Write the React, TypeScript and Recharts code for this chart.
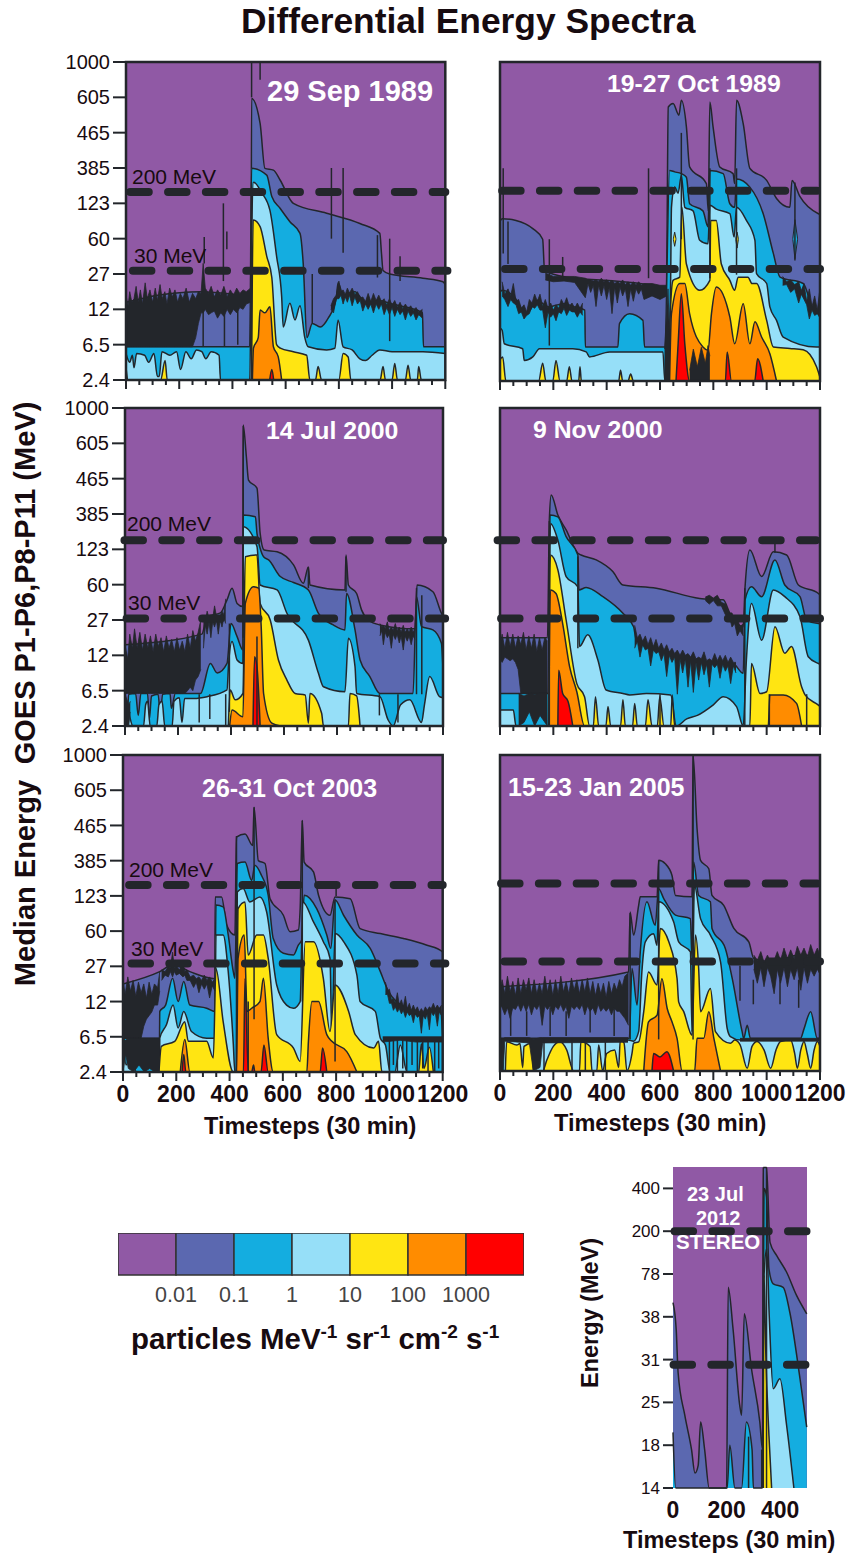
import React from "react";
import { Area, AreaChart, Bar, BarChart, ReferenceArea, ReferenceLine, XAxis, YAxis } from "recharts";

// colours of the flux bins, lowest flux first
const binColors = ["#9059A5", "#5B68B0", "#14ADE0", "#96DFF8", "#FFE512", "#FF8C00", "#FF0000"];
const dark = "#23262B";
const ink = "#170B10";
const fontFamily = "'Liberation Sans', Arial, sans-serif";

const goesLabels = ["2.4", "6.5", "12", "27", "60", "123", "385", "465", "605", "1000"];
const stereoLabels = ["14", "18", "25", "31", "38", "78", "200", "400"];
const fluxLabels = ["0.01", "0.1", "1", "10", "100", "1000"];
const goesTimeTicks = [0, 50, 100, 150, 200, 250, 300, 350, 400, 450, 500, 550, 600, 650, 700, 750, 800, 850, 900, 950, 1000, 1050, 1100, 1150, 1200];
const stereoTimeTicks = [0, 200, 400];

// contour heights as [timestep, energy rung], rung 0 is the lowest energy tick

// 29 Sep 1989
const sep89_001 = [[0, 2.2], [120, 2.4], [280, 2.5], [470, 2.4], [472, 7.97], [504, 7.26], [522, 5.99], [554, 5.94], [579, 5.66], [629, 5], [754, 4.72], [879, 4.43], [954, 4.15], [960, 3.6], [966, 3.1], [991, 3], [1116, 2.88], [1191, 2.78], [1200, 2.7]];
const sep89_01 = [[0, 0.94], [465, 0.94], [472, 5.99], [529, 5.8], [548, 5.19], [579, 4.86], [616, 4.48], [654, 4.15], [666, 3.3], [680, 1.2], [700, 1.6], [730, 1.5], [760, 1.75], [790, 2.3], [797, 2.75], [816, 2.4], [860, 2.5], [900, 2.2], [950, 2.25], [1000, 2.15], [1060, 2.05], [1114, 1.9], [1118, 0.94], [1200, 0.94]];
const sep89_1 = [[0, 0.75], [14, 0.5], [24, 0.7], [30, 0.35], [40, 0.75], [70, 0.7], [85, 0.5], [105, 0.75], [118, 0.1], [125, 0.1], [135, 0.8], [165, 0.7], [190, 0.8], [205, 0.3], [225, 0.8], [245, 0.6], [265, 0.85], [285, 0.8], [300, 0.6], [320, 0.8], [350, 0.7], [355, 0], [465, 0], [472, 4], [479, 5.6], [510, 5.3], [541, 4.8], [566, 3.5], [585, 2.36], [591, 1.5], [616, 2.17], [635, 1.7], [654, 2.1], [672, 1.2], [685, 0.94], [754, 0.85], [785, 0.9], [797, 1.7], [816, 0.94], [850, 0.85], [879, 0.6], [900, 0.55], [925, 0.7], [954, 0.85], [1000, 0.8], [1116, 0.8], [1200, 0.75]];
const sep89_10 = [[0, 0.35], [8, 0], [130, 0], [147, 0.55], [155, 0], [470, 0], [478, 4.53], [504, 4.34], [529, 3.5], [548, 2.9], [566, 1], [580, 0.9], [629, 0.8], [679, 0.7], [691, 0], [712, 0], [722, 0.38], [735, 0], [800, 0], [816, 0.75], [835, 0.65], [845, 0], [955, 0], [966, 0.38], [975, 0], [1000, 0], [1010, 0.47], [1020, 0], [1050, 0], [1060, 0.42], [1070, 0], [1095, 0], [1100, 0.38], [1110, 0], [1200, 0]];
const sep89_100 = [[475, 0], [479, 0.9], [497, 1.2], [504, 1.98], [522, 1.9], [541, 2.07], [554, 0.94], [572, 0.66], [585, 0]];
const sep89_1000 = [[540, 0], [548, 0.3], [555, 0]];
const sep89_noise = [
  [[0, 0.94, 2.4], [8, 0.94, 2.1], [14, 0.94, 2.5], [22, 0.94, 2.2], [30, 0.94, 2.3], [38, 0.94, 2.65], [46, 0.94, 2.2], [54, 0.94, 2.55], [62, 0.94, 2.15], [72, 0.94, 2.75], [80, 0.94, 2.3], [90, 0.94, 2.55], [100, 0.94, 2.2], [110, 0.94, 2.6], [118, 0.94, 2.25], [128, 0.94, 2.7], [136, 0.94, 2.3], [146, 0.94, 2.5], [154, 0.94, 2.15], [164, 0.94, 2.6], [174, 0.94, 2.35], [184, 0.94, 2.55], [194, 0.94, 2.2], [204, 0.94, 2.45], [214, 0.94, 2.3], [226, 0.94, 2.6], [238, 0.94, 2.2], [250, 0.94, 2.45], [262, 1.2, 2.3], [272, 1.6, 2.5], [282, 1.9, 2.45], [290, 1.9, 3.3], [298, 2, 2.6], [310, 1.85, 2.45], [320, 1.9, 2.65], [332, 1.95, 2.35], [344, 1.75, 2.55], [356, 1.9, 2.4], [368, 1.8, 2.65], [380, 2, 2.35], [392, 1.85, 2.55], [404, 2, 2.4], [416, 1.9, 2.6], [428, 2.05, 2.45], [440, 2, 2.55], [452, 2.15, 2.5], [468, 2.2, 2.6]],
  [[770, 2, 2.1], [780, 1.9, 2.3], [790, 2.3, 2.4], [800, 2.3, 2.8], [808, 2.4, 2.5], [816, 2.15, 2.55], [824, 2.35, 2.42], [832, 2.2, 2.6], [840, 2.4, 2.46], [850, 2.1, 2.6], [860, 2.35, 2.42], [870, 2.15, 2.5], [880, 2.25, 2.32], [890, 1.95, 2.35], [900, 2.15, 2.22], [910, 2, 2.45], [920, 2.15, 2.22], [930, 1.9, 2.45], [940, 2.15, 2.25], [950, 2, 2.4], [960, 2.15, 2.22], [970, 1.85, 2.3], [980, 2.05, 2.12], [990, 1.85, 2.3], [1000, 2.05, 2.12], [1010, 1.8, 2.25], [1020, 2, 2.06], [1030, 1.85, 2.2], [1040, 1.95, 2.02], [1050, 1.7, 2.15], [1060, 1.95, 2.02], [1070, 1.8, 2.1], [1080, 1.9, 1.97], [1090, 1.7, 2.05], [1100, 1.85, 1.92], [1114, 1.75, 2]],
];
const sep89_spikes = [[472, 8, 9], [504, 8.5, 9], [472, 0, 5.6], [772, 4, 6], [816, 3.6, 6], [366, 2.8, 5], [379, 3.7, 4.2], [294, 3.3, 4.05], [991, 1.1, 4], [1030, 2.8, 3.5], [945, 2.9, 4.1], [290, 0.95, 2], [370, 0.95, 2], [420, 1, 2], [700, 1.6, 3]];

// 19-27 Oct 1989
const oct89_001 = [[0, 4.5], [8, 4.58], [60, 4.53], [123, 4.3], [160, 4], [167, 3.12], [248, 2.93], [398, 2.84], [524, 2.75], [624, 2.65], [631, 7.73], [649, 7.83], [671, 7.5], [680, 7.92], [699, 7.17], [711, 6.04], [774, 5.57], [781, 4.8], [787, 7.87], [799, 7.17], [824, 6.04], [874, 5.85], [880, 5.57], [887, 7.92], [912, 7.26], [937, 6], [1000, 5.66], [1037, 5.15], [1087, 4.9], [1095, 5.66], [1125, 5.2], [1194, 4.72], [1200, 4.7]];
const oct89_01 = [[0, 2.5], [8, 2.56], [50, 2.4], [100, 1.9], [140, 2.28], [180, 2.09], [240, 2.18], [280, 2.09], [318, 2], [320, 0.96], [442, 0.96], [448, 1.62], [486, 1.9], [536, 1.71], [542, 0.96], [618, 0.96], [636, 5.94], [655, 5.9], [680, 5.85], [699, 5.75], [711, 5], [761, 4.8], [780, 4.35], [787, 5.94], [837, 5.85], [862, 5], [880, 4.9], [887, 5.7], [937, 5.47], [987, 4.72], [1025, 3.6], [1050, 2.93], [1137, 2.75], [1175, 2], [1194, 1.9], [1200, 1.9]];
const oct89_1 = [[0, 1.5], [8, 1.43], [16, 1.05], [85, 0.91], [91, 0.58], [123, 0.68], [148, 0.91], [273, 0.91], [323, 0.82], [336, 0.68], [411, 0.82], [611, 0.82], [618, 0], [630, 0], [640, 2.9], [643, 4.9], [655, 5.47], [668, 5.3], [680, 5.8], [693, 4.9], [724, 4.8], [749, 3.97], [780, 3.87], [787, 4.96], [811, 4.85], [862, 4.72], [878, 4.06], [887, 4.9], [924, 4.53], [956, 3.97], [962, 3.03], [1000, 2.75], [1012, 2.09], [1037, 1.71], [1062, 1.24], [1187, 0.96], [1200, 0.96]];
const oct89_10 = [[0, 0.6], [10, 0.68], [22, 0], [145, 0], [160, 0.5], [172, 0], [198, 0], [210, 0.58], [225, 0], [250, 0], [260, 0.4], [270, 0], [295, 0], [300, 0.4], [305, 0], [445, 0], [452, 0.3], [460, 0], [480, 0], [490, 0.2], [500, 0], [632, 0], [639, 2], [649, 2.84], [674, 2.93], [682, 4.9], [699, 3.3], [749, 2.56], [787, 2.84], [790, 4.53], [811, 4.53], [830, 3.3], [862, 2.84], [880, 2.56], [893, 2.93], [930, 2.93], [945, 2.75], [962, 2.75], [1000, 1.71], [1025, 0.96], [1087, 0.92], [1137, 0.88], [1187, 0.4], [1200, 0.1]];
const oct89_100 = [[636, 0], [643, 1.9], [674, 2.75], [693, 2.75], [711, 1.9], [761, 0.96], [780, 0.87], [793, 1.9], [811, 2.65], [862, 1.8], [880, 1.05], [912, 2.18], [937, 1.05], [956, 1.67], [981, 1.24], [1012, 0.77], [1037, 0]];
const oct89_1000 = [[660, 0], [668, 1.05], [680, 2.46], [693, 1.05], [711, 0], [845, 0], [852, 0.82], [868, 0], [955, 0], [966, 0.63], [987, 0]];
const oct89_noise = [
  [[8, 2.4, 2.8], [18, 2.3, 2.45], [30, 2.1, 2.6], [40, 2.3, 2.4], [50, 2.2, 2.75], [60, 2.15, 2.25], [70, 1.9, 2.3], [80, 1.95, 2.05], [90, 1.75, 2.15], [100, 1.85, 1.95], [110, 1.9, 2.3], [120, 2.1, 2.2], [130, 2.05, 2.45], [140, 2.15, 2.25], [150, 2, 2.45], [160, 2, 2.1], [170, 1.5, 2.3], [180, 1.95, 2.05], [190, 1.8, 2.2], [200, 1.9, 2], [210, 1.7, 2.15], [220, 1.95, 2.05], [230, 1.9, 2.3], [240, 2.05, 2.15], [250, 1.85, 2.35], [260, 2, 2.1], [270, 1.95, 2.2], [280, 1.95, 2.05], [290, 1.8, 2.2], [300, 1.95, 2.05], [310, 1.85, 2.2]],
  [[170, 2.85, 3.05], [200, 2.8, 2.95], [240, 2.82, 2.95], [280, 2.78, 2.95], [320, 2.35, 2.9], [330, 2.75, 2.85], [340, 2.5, 2.85], [350, 2.7, 2.82], [360, 2.1, 2.85], [370, 2.7, 2.8], [380, 2.4, 2.9], [390, 2.7, 2.8], [400, 2.3, 2.85], [410, 2.65, 2.78], [420, 1.9, 2.85], [430, 2.65, 2.75], [440, 2.2, 2.8], [450, 2.65, 2.75], [460, 2.4, 2.85], [470, 2.6, 2.72], [480, 2.1, 2.8], [490, 2.6, 2.7], [500, 2.25, 2.8], [510, 2.6, 2.7], [520, 2.45, 2.8], [530, 2.6, 2.7], [540, 2.3, 2.75], [570, 2.4, 2.75], [600, 2.3, 2.7], [625, 2.4, 2.7]],
  [[617, 0, 0.9], [630, 0, 2.6], [637, 0, 0.9]],
  [[711, 0, 0.3], [725, 0, 0.9], [740, 0, 0.4], [755, 0, 0.95], [770, 0, 0.5], [780, 0, 1], [787, 0, 0.7]],
  [[1060, 2.7, 2.95], [1075, 2.72, 2.8], [1090, 2.5, 2.85], [1105, 2.6, 2.72], [1120, 2.2, 2.8], [1130, 2.45, 2.55], [1140, 2.3, 2.75], [1150, 2.15, 2.25], [1160, 1.75, 2.6], [1170, 2, 2.1], [1180, 1.85, 2.4], [1190, 1.9, 2], [1198, 1.8, 2.5]],
];
const oct89_patches = [
  { bin: 2, pts: [[1098, 4, 4.01], [1106, 3.45, 4.55], [1116, 4, 4.01]] },
  { bin: 4, pts: [[650, 4, 4.01], [655, 3.8, 4.2], [660, 4, 4.01]] },
  { bin: 4, pts: [[884, 4, 4.01], [889, 3.75, 4.2], [894, 4, 4.01]] },
];
const oct89_spikes = [[12, 3.6, 6], [557, 2.9, 6], [680, 4, 7], [787, 2.9, 6], [887, 3, 6], [185, 1, 4], [235, 2.9, 3.5], [30, 3.3, 4.5], [1106, 3.4, 5.6]];

// 14 Jul 2000
const jul00_001 = [[0, 2.3], [290, 2.6], [310, 3.1], [360, 3.2], [385, 3.57], [404, 3.9], [423, 3.47], [445, 3.38], [446, 8.52], [458, 7.62], [466, 6.96], [498, 6.73], [510, 5.45], [525, 4.98], [574, 4.93], [636, 4.56], [673, 4.04], [692, 4.5], [698, 3.99], [830, 3.85], [834, 4.84], [843, 3.99], [874, 3.75], [893, 3.28], [918, 3], [962, 2.86], [1094, 2.75], [1102, 3.99], [1162, 3.8], [1194, 3.19], [1200, 3.1]];
const jul00_01 = [[0, 0.6], [8, 0.2], [14, 0.9], [40, 0.92], [50, 0.3], [60, 0.92], [85, 0.92], [92, 0.2], [100, 0.85], [125, 0.9], [133, 0.3], [142, 0.9], [170, 0.92], [175, 0.5], [190, 0.92], [285, 0.92], [322, 1.77], [348, 1.5], [385, 1.77], [400, 2.9], [423, 2.53], [445, 2.15], [446, 5.97], [492, 5.92], [498, 5.45], [510, 5.03], [523, 4.79], [542, 4.7], [586, 4.23], [636, 4.06], [692, 3.85], [730, 3.19], [786, 2.86], [830, 2.72], [836, 3.75], [868, 2.72], [887, 1.87], [924, 1.4], [962, 0.92], [1087, 0.92], [1100, 3.66], [1119, 2.81], [1162, 2.72], [1194, 2.34], [1200, 1.6]];
const jul00_1 = [[12, 0.55], [20, 0.2], [30, 0], [70, 0], [78, 0.6], [85, 0.7], [95, 0], [120, 0], [128, 0.6], [140, 0.7], [150, 0], [178, 0], [185, 0.7], [205, 0.8], [215, 0.1], [225, 0.78], [260, 0.78], [310, 0.83], [385, 1.02], [391, 1.77], [404, 2.39], [423, 1.87], [445, 1.77], [446, 5.64], [498, 5.08], [510, 3.99], [574, 3.85], [611, 3.19], [692, 2.43], [730, 1.49], [749, 1.11], [830, 0.97], [843, 2.48], [868, 1.68], [874, 0.92], [962, 0.83], [993, 0.17], [1012, 0], [1040, 0.6], [1075, 0.74], [1119, 0.1], [1130, 0.6], [1150, 1.4], [1187, 0.83], [1200, 0.8]];
const jul00_10 = [[390, 0], [397, 1.02], [416, 0.74], [445, 0.92], [454, 4.79], [498, 4.84], [510, 3.47], [548, 3], [579, 1.87], [611, 1.3], [642, 0.92], [680, 0.88], [692, 0.08], [698, 0.92], [742, 0.36], [749, 0], [843, 0], [849, 0.92], [874, 0.85], [887, 0]];
const jul00_100 = [[395, 0], [404, 0.45], [445, 0.26], [454, 3.47], [485, 3.94], [504, 3.9], [514, 2.81], [523, 0.92], [554, 0.08], [586, 0]];
const jul00_1000 = [[483, 0], [489, 1.96], [498, 1.68], [510, 0]];
const jul00_noise = [
  [[0, 0.92, 2.3], [10, 0.92, 1.9], [18, 0.92, 2.6], [28, 0.92, 2.2], [36, 0.92, 2.75], [46, 0.92, 2.2], [56, 0.92, 2.65], [66, 0.92, 2.15], [76, 0.92, 2.6], [86, 0.92, 2.2], [96, 0.92, 2.55], [106, 0.92, 2.1], [116, 0.92, 2.6], [126, 0.92, 2.25], [136, 0.92, 2.5], [146, 0.92, 2.1], [156, 0.92, 2.55], [166, 0.92, 2.2], [176, 0.92, 2.45], [186, 0.92, 2.1], [196, 0.92, 2.5], [206, 0.92, 2.15], [216, 0.92, 2.4], [226, 0.92, 2.1], [236, 1, 2.6], [246, 1.1, 2.2], [256, 1, 2.7], [266, 1.3, 2.4], [276, 1.4, 2.65], [286, 1.6, 3]],
  [[296, 2.2, 3.1], [303, 2.85, 2.95], [310, 2.6, 3.25], [317, 2.95, 3.05], [324, 2.5, 3.05], [331, 2.95, 3.05], [338, 2.8, 3.4], [345, 3, 3.1], [352, 2.6, 3.1], [359, 3, 3.1], [366, 2.8, 3.25], [373, 3.05, 3.15], [380, 2.9, 3.6]],
  [[962, 2.55, 2.9], [969, 2.7, 2.8], [975, 2.3, 2.85], [982, 2.65, 2.75], [990, 2.5, 2.95], [997, 2.6, 2.7], [1005, 2.2, 2.8], [1012, 2.6, 2.7], [1020, 2.45, 2.9], [1027, 2.6, 2.7], [1035, 2.35, 2.8], [1042, 2.55, 2.65], [1050, 2.15, 2.85], [1057, 2.55, 2.65], [1065, 2.4, 2.75], [1072, 2.55, 2.65], [1080, 2.3, 2.8], [1087, 2.55, 2.65], [1094, 2.45, 2.75]],
  [[0, 0, 0.9], [14, 0, 0.6], [20, 0.4, 0.7]],
];
const jul00_spikes = [[446, 2.5, 8.5], [498, 0, 2.53], [692, 3.9, 4.5], [834, 3.8, 4.8], [1100, 0.9, 3.9], [1120, 0.9, 3.7], [394, 0.4, 2.9], [280, 0.1, 0.9], [320, 0.2, 0.9], [380, 0, 0.9], [960, 0.3, 0.9], [1030, 0.1, 0.9]];

// 9 Nov 2000
const nov00_001 = [[0, 2.5], [178, 2.5], [185, 5.83], [192, 6.54], [217, 5.97], [248, 5.55], [292, 4.89], [304, 4.84], [361, 4.7], [423, 4.37], [461, 3.99], [586, 3.9], [749, 3.61], [837, 3.57], [862, 3.19], [912, 2.81], [919, 3.94], [937, 4.98], [981, 4.23], [1025, 4.93], [1075, 4.84], [1119, 3.99], [1194, 3.75], [1200, 3.7]];
const nov00_01 = [[0, 0.92], [180, 0.92], [188, 5.97], [217, 5.92], [248, 5.36], [292, 4.84], [296, 3.85], [323, 3.92], [386, 3.66], [461, 3.19], [501, 2.81], [511, 2.43], [624, 2.06], [711, 1.87], [874, 1.77], [912, 1.49], [919, 3.57], [943, 3.94], [981, 3.66], [1031, 4.7], [1068, 3.99], [1125, 3.66], [1150, 3], [1194, 2.9], [1200, 2.9]];
const nov00_1 = [[0, 0.45], [50, 0.45], [60, 0], [182, 0], [189, 5.73], [217, 5.26], [248, 4.23], [292, 3.94], [298, 2.25], [329, 2.58], [367, 1.87], [398, 1.02], [461, 0.92], [486, 0.88], [549, 0.92], [640, 0.88], [661, 0], [700, 0.2], [740, 0.3], [800, 0.6], [837, 0.83], [887, 0.55], [912, 0], [924, 1.87], [943, 3.47], [981, 2.43], [1025, 3.85], [1068, 3.66], [1125, 3.09], [1156, 1.96], [1194, 1.77], [1200, 1.75]];
const nov00_10 = [[182, 0], [189, 4.84], [217, 4.42], [248, 3], [288, 1.2], [317, 0.83], [336, 0], [350, 0], [358, 0.83], [370, 0], [397, 0], [405, 0.55], [415, 0], [452, 0], [461, 0.74], [470, 0], [497, 0], [505, 0.64], [515, 0], [545, 0], [555, 0.74], [570, 0], [590, 0], [599, 0.83], [615, 0], [640, 0], [646, 0.88], [655, 0], [937, 0], [943, 1.77], [975, 0.92], [1000, 0.97], [1031, 2.81], [1068, 2.06], [1093, 2.25], [1131, 1.11], [1144, 0.88], [1194, 0.59], [1200, 0.55]];
const nov00_100 = [[183, 0], [189, 3.85], [210, 3.75], [235, 2.9], [261, 1.68], [288, 0.97], [317, 0], [1006, 0], [1012, 0.88], [1062, 0.88], [1112, 0.64], [1131, 0]];
const nov00_1000 = [[217, 0], [220, 1.58], [235, 0.92], [255, 0.7], [273, 0]];
const nov00_noise = [
  [[0, 1.9, 2.3], [8, 1.8, 2.6], [18, 1.95, 2.2], [28, 1.9, 2.65], [38, 1.85, 2.25], [48, 1.9, 2.6], [58, 1.8, 2.2], [68, 1.6, 2.55], [78, 0.92, 2.3], [88, 0.92, 2.65], [98, 0.92, 2.15], [108, 0.92, 2.55], [118, 0.92, 2.2], [128, 0.92, 2.6], [138, 0.92, 2.1], [148, 0.92, 2.5], [158, 0.92, 2.15], [168, 0.92, 2.5], [178, 0.92, 2.4]],
  [[70, 0, 0.92], [90, 0.1, 0.85], [110, 0.4, 0.92], [130, 0, 0.9], [150, 0.3, 0.92], [178, 0, 0.92]],
  [[505, 2.2, 2.85], [515, 2.4, 2.5], [525, 1.95, 2.6], [535, 2.3, 2.4], [545, 2.15, 2.55], [555, 2.2, 2.3], [565, 1.7, 2.5], [575, 2.15, 2.25], [585, 2.05, 2.45], [595, 2.1, 2.2], [605, 1.85, 2.35], [615, 2.05, 2.15], [625, 1.4, 2.3], [635, 2, 2.1], [645, 1.8, 2.2], [655, 1.95, 2.05], [665, 0.9, 2.15], [675, 1.9, 2], [685, 1.5, 2.15], [695, 1.9, 2], [705, 1.1, 2.05], [715, 1.85, 1.95], [725, 0.95, 2.1], [735, 1.8, 1.9], [745, 1.3, 1.95], [755, 1.8, 1.9], [765, 1.45, 2.1], [775, 1.75, 1.85], [785, 1.1, 1.9], [795, 1.75, 1.85], [805, 1.65, 2.05], [815, 1.75, 1.85], [825, 1.35, 2], [835, 1.75, 1.85], [845, 1.55, 2], [855, 1.7, 1.8], [865, 1.2, 1.95], [875, 1.7, 1.8], [885, 1.5, 1.8]],
  [[770, 3.55, 3.65], [785, 3.45, 3.7], [800, 3.55, 3.62], [815, 3.4, 3.7], [830, 3.4, 3.5], [845, 3.15, 3.45], [860, 3.1, 3.2], [870, 2.8, 3.2], [880, 2.9, 3], [890, 2.55, 3.05], [900, 2.7, 2.8], [912, 2.55, 2.9]],
];
const nov00_spikes = [[185, 0, 5.8], [292, 2.2, 4.8], [1031, 4.9, 5.3], [918, 0, 3.9], [1010, 0, 0.9], [1150, 0, 0.9], [600, 0, 0.9]];

// 26-31 Oct 2003
const oct03_001 = [[0, 2.5], [138, 2.85], [188, 3.05], [251, 2.85], [345, 2.65], [346, 4.97], [370, 4.97], [389, 4.17], [420, 3.89], [426, 6.67], [458, 6.76], [487, 6.43], [492, 7.52], [508, 6], [533, 5.92], [552, 4.92], [602, 4.45], [627, 3.98], [658, 4.03], [665, 4.64], [673, 7.14], [680, 5.96], [715, 5.68], [734, 5.02], [777, 4.45], [796, 4.97], [853, 4.92], [890, 4.07], [966, 3.93], [1053, 3.79], [1141, 3.6], [1198, 3.42], [1200, 3.4]];
const oct03_01 = [[0, 0.96], [137, 0.96], [138, 1.72], [160, 1.9], [186, 2.66], [207, 2], [228, 2.57], [251, 1.9], [314, 1.81], [345, 1.72], [349, 4.74], [376, 4.69], [395, 3.89], [414, 2.85], [420, 2.66], [429, 5.92], [458, 5.96], [483, 5.44], [495, 5.87], [520, 5.58], [545, 5.02], [564, 3.79], [602, 3.37], [640, 3.32], [658, 3.6], [671, 3.75], [680, 5.02], [727, 4.64], [765, 3.89], [780, 3.51], [796, 4.88], [828, 4.45], [878, 3.89], [928, 3.51], [966, 2.85], [997, 2.28], [1066, 1.81], [1116, 1.62], [1191, 1.81], [1200, 1]];
const oct03_1 = [[0, 0.9], [12, 0.2], [30, 0.7], [50, 0], [137, 0], [138, 0.96], [163, 1.34], [188, 1.9], [207, 1.25], [228, 1.72], [257, 1.15], [314, 0.96], [345, 0.96], [349, 3.89], [376, 3.89], [395, 2.85], [414, 0.8], [420, 0], [426, 0], [429, 5.11], [451, 5.21], [476, 4.83], [514, 4.97], [539, 4.55], [577, 2.47], [614, 1.9], [640, 1.81], [665, 2], [675, 4.83], [715, 4.26], [752, 3.7], [777, 3.23], [784, 0.96], [796, 3.93], [828, 3.7], [878, 2.75], [890, 2], [947, 1.72], [966, 0.96], [985, 0.77], [1003, 0], [1020, 0], [1041, 0.77], [1066, 0], [1200, 0]];
const oct03_10 = [[135, 0], [144, 0.73], [194, 0.87], [232, 1.43], [245, 0.87], [314, 0.87], [339, 0.4], [349, 2.94], [376, 1.43], [414, 0], [426, 0], [432, 4.64], [458, 4.83], [470, 3.32], [502, 3.89], [527, 3.89], [545, 3.23], [577, 1.06], [640, 0.68], [665, 0.3], [684, 3.7], [715, 3.7], [752, 2.66], [777, 1.15], [796, 2.47], [847, 1.72], [872, 1.06], [941, 0.68], [959, 0.87], [972, 0], [1110, 0], [1120, 0.8], [1130, 0.1], [1150, 0.7], [1165, 0]];
const oct03_100 = [[215, 0], [232, 0.92], [251, 0], [426, 0], [432, 3.23], [455, 3.89], [466, 1.72], [483, 1.81], [514, 2], [527, 2.66], [545, 0.96], [564, 0], [690, 0], [696, 0.87], [709, 2], [734, 2], [765, 1.06], [784, 0.87], [840, 0.58], [878, 0]];
const oct03_1000 = [[222, 0], [228, 0.5], [236, 0], [452, 0], [458, 2.66], [470, 0], [483, 0], [490, 0.2], [495, 0], [518, 0], [529, 0.77], [545, 0], [740, 0], [749, 0.68], [765, 0]];
const oct03_noise = [
  [[0, 0.96, 2.6], [8, 0.96, 2.2], [18, 0.96, 2.7], [28, 0.96, 2.3], [38, 0.96, 2.6], [48, 0.96, 2.15], [58, 0.96, 2.55], [68, 0.96, 2.25], [78, 1.3, 2.5], [88, 1.5, 2.1], [98, 1.6, 2.55], [108, 1.7, 2.2], [118, 1.9, 2.5], [130, 1.9, 2.4], [138, 2.3, 2.85]],
  [[0, 0, 0.96], [10, 0.5, 0.9], [20, 0.1, 0.96], [40, 0, 0.96], [60, 0.2, 0.96], [80, 0, 0.96], [100, 0.1, 0.96], [120, 0, 0.96], [137, 0, 0.96]],
  [[145, 2.6, 2.9], [158, 2.75, 2.85], [170, 2.7, 3], [178, 2.85, 2.95], [186, 2.7, 3.4], [193, 2.85, 2.95], [200, 2.75, 3], [212, 2.8, 2.9], [225, 2.7, 3.1], [232, 2.75, 2.85], [240, 2.6, 2.9], [252, 2.6, 2.7], [265, 2.4, 2.75], [275, 2.55, 2.65], [285, 2.25, 2.7], [295, 2.5, 2.6], [305, 2.35, 2.75], [315, 2.5, 2.6], [325, 2.1, 2.7], [335, 2.45, 2.55], [345, 2.3, 2.65]],
  [[985, 2.2, 2.55], [993, 2.2, 2.3], [1000, 1.95, 2.35], [1008, 1.95, 2.05], [1015, 1.75, 2.1], [1022, 1.85, 1.95], [1030, 1.7, 2.25], [1037, 1.8, 1.9], [1045, 1.65, 2.05], [1052, 1.75, 1.85], [1060, 1.55, 2.15], [1067, 1.7, 1.8], [1075, 1.6, 1.95], [1082, 1.65, 1.75], [1090, 1.4, 1.9], [1097, 1.65, 1.75], [1105, 1.55, 1.85], [1112, 1.6, 1.7], [1120, 1.1, 1.8], [1127, 1.6, 1.7], [1135, 1.5, 1.85], [1142, 1.65, 1.75], [1150, 1.2, 1.85], [1157, 1.7, 1.8], [1165, 1.6, 1.95], [1172, 1.7, 1.8], [1180, 1.3, 1.9], [1187, 1.7, 1.8], [1196, 1.6, 1.9]],
  [[975, 0.85, 1], [1040, 0.9, 1], [1100, 0.85, 1], [1200, 0.85, 1]],
];
const oct03_spikes = [[426, 0, 6.7], [673, 2, 7.14], [492, 1.5, 7.52], [796, 0.3, 4.9], [470, 0, 2], [1000, 0, 0.9], [1015, 0.2, 0.9], [1030, 0, 0.9], [1050, 0.1, 0.9], [1065, 0, 0.9], [1085, 0.2, 0.9], [1105, 0, 0.9], [1125, 0.1, 0.9], [1145, 0, 0.9], [1170, 0, 0.9], [1185, 0.1, 0.9], [800, 5, 5.3]];

// 15-23 Jan 2005
const jan05_001 = [[0, 2.4], [482, 2.82], [488, 4.53], [501, 3.87], [520, 4.72], [526, 4.96], [589, 4.96], [595, 6], [620, 5.9], [645, 5.57], [658, 5], [720, 4.96], [724, 8.99], [739, 6.9], [752, 6], [783, 5.76], [795, 5], [839, 4.72], [877, 4.06], [933, 3.68], [952, 3.2], [1027, 3.11], [1115, 3.3], [1190, 3.3], [1200, 3.2]];
const jan05_01 = [[0, 0.93], [485, 0.93], [495, 2.92], [514, 1.88], [526, 3.39], [551, 4.82], [582, 4.15], [595, 5.19], [614, 4.91], [658, 4.44], [714, 4.34], [720, 3.2], [726, 5.95], [745, 5], [789, 4.82], [795, 4.06], [845, 3.49], [871, 2.63], [908, 1.12], [914, 0.93], [927, 1.3], [939, 0.93], [1127, 0.93], [1140, 1.2], [1165, 1.69], [1190, 0.93], [1200, 0.93]];
const jan05_1 = [[15, 0.88], [480, 0.88], [501, 0.85], [520, 1.12], [532, 2.82], [545, 3.68], [576, 3.91], [589, 3.58], [595, 4.82], [651, 4.25], [670, 3.68], [714, 3.39], [720, 1.12], [729, 5.29], [752, 4.34], [789, 3.87], [827, 3.11], [852, 1.21], [864, 0.98], [902, 0.88], [1200, 0.88]];
const jan05_10 = [[20, 0], [25, 0.83], [63, 0.74], [75, 0.78], [85, 0.1], [90, 0.7], [120, 0.79], [125, 0], [160, 0], [175, 0.3], [200, 0.7], [225, 0.83], [250, 0.6], [276, 0], [298, 0], [303, 0.83], [338, 0.7], [345, 0], [363, 0], [370, 0.74], [385, 0], [400, 0.5], [430, 0.6], [445, 0.1], [451, 0.88], [465, 0.8], [476, 0], [495, 0.5], [501, 0.79], [520, 0.83], [539, 1.69], [557, 2.82], [589, 2.45], [601, 4.06], [633, 3.68], [664, 2.63], [670, 1.97], [689, 1.69], [720, 1.02], [733, 3.87], [745, 2.92], [752, 1.69], [789, 2.35], [808, 1.12], [864, 0.79], [880, 0.88], [900, 0.75], [927, 0.08], [945, 0.7], [964, 0.84], [990, 0.6], [1015, 0.08], [1035, 0.6], [1052, 0.84], [1090, 0.88], [1105, 0.5], [1115, 0.08], [1128, 0.6], [1140, 0.84], [1152, 0.5], [1165, 0.08], [1178, 0.6], [1190, 0.84], [1200, 0.7]];
const jan05_100 = [[539, 0], [557, 1.4], [589, 1.59], [607, 2.63], [627, 1.78], [645, 1.4], [664, 0.93], [683, 0], [730, 0], [739, 0.93], [764, 0.93], [783, 1.69], [802, 0.93], [827, 0]];
const jan05_1000 = [[570, 0], [576, 0.5], [600, 0.4], [626, 0.55], [651, 0]];
const jan05_noise = [
  [[0, 1.9, 2.3], [8, 1.8, 2.6], [18, 1.6, 2.2], [28, 1.8, 2.7], [38, 1.5, 2.25], [48, 1.8, 2.55], [58, 1.75, 2.15], [68, 1.9, 2.65], [78, 1.7, 2.2], [88, 1.9, 2.6], [98, 1.7, 2.3], [108, 1.9, 2.65], [118, 1.6, 2.2], [128, 1.85, 2.6], [138, 1.75, 2.2], [148, 1.9, 2.5], [158, 1.3, 2.2], [168, 1.85, 2.7], [178, 1.75, 2.25], [188, 1.85, 2.6], [198, 1.6, 2.15], [208, 1.85, 2.6], [218, 1.75, 2.2], [228, 1.9, 2.7], [238, 1.7, 2.25], [248, 1.85, 2.55], [258, 1.5, 2.2], [268, 1.85, 2.65], [278, 1.75, 2.3], [288, 1.85, 2.6], [298, 1.75, 2.2], [308, 1.9, 2.6], [318, 1.6, 2.25], [328, 1.85, 2.65], [338, 1.7, 2.2], [348, 1.8, 2.55], [358, 1.6, 2.15], [368, 1.9, 2.5], [378, 1.7, 2.2], [388, 1.8, 2.5], [398, 1.7, 2.1], [408, 1.8, 2.55], [418, 1.6, 2.2], [428, 1.8, 2.5], [438, 1.7, 2.3], [448, 1.7, 2.6], [458, 1.6, 2.4], [468, 1.5, 2.7], [482, 1.3, 2.8]],
  [[952, 2.9, 3.3], [965, 2.5, 3.15], [978, 2.95, 3.4], [990, 2.4, 3.1], [1003, 2.95, 3.3], [1015, 2.7, 3.1], [1028, 2.2, 3.15], [1040, 2.9, 3.4], [1052, 2.5, 3.15], [1065, 2.95, 3.5], [1078, 2.4, 3.2], [1090, 2.9, 3.45], [1103, 2.6, 3.2], [1115, 2.95, 3.55], [1128, 2.3, 3.3], [1140, 2.95, 3.5], [1153, 2.5, 3.25], [1165, 2.9, 3.6], [1178, 2.7, 3.3], [1190, 2.9, 3.5], [1200, 2.75, 3.3]],
  [[0, 0, 0.93], [12, 0, 0.93], [18, 0.85, 0.95], [110, 0.8, 0.95], [125, 0, 0.9], [150, 0.1, 0.95], [160, 0.8, 0.95], [480, 0.82, 0.95]],
  [[900, 0.85, 0.93], [1200, 0.85, 0.93]],
];
const jan05_spikes = [[724, 0.9, 8.99], [595, 0.9, 6], [488, 0.9, 4.5], [165, 0, 0.9], [270, 0, 0.9], [320, 0, 0.9], [395, 0, 0.9], [40, 1, 1.7], [100, 1, 1.7], [188, 1, 1.8], [248, 1, 1.7], [338, 1.1, 1.8], [428, 1, 1.8], [900, 2, 3], [950, 1.9, 2.6], [1050, 1.9, 2.6], [1120, 1.8, 2.6]];

// 23 Jul 2012, STEREO rungs
const jul12_001 = [[0, 4.33], [12, 3.7], [19, 2.7], [44, 1.7], [69, 0.9], [82, 0.35], [94, 0.53], [103, 1.54], [118, 0.9], [135, 0], [200, 0], [206, 4.69], [224, 3.72], [249, 1.93], [256, 1.7], [266, 4.07], [293, 2.78], [324, 1.54], [334, 0.9], [337, 7.49], [349, 7.49], [362, 5.74], [387, 5.43], [424, 5.04], [461, 4.5], [499, 4.07]];
const jul12_01 = [[0, 1.3], [10, 0], [202, 0], [212, 1], [231, 0], [256, 0], [274, 1.54], [295, 0.9], [300, 0], [334, 0], [340, 7], [349, 6.8], [358, 5.12], [374, 4.77], [411, 4.69], [436, 4.1], [474, 2.55], [499, 1.42]];
const jul12_1 = [[336, 0], [340, 5], [350, 5.6], [359, 4.03], [374, 2.32], [399, 2.55], [424, 1.46], [451, 0]];
const jul12_10 = [[336, 0], [340, 4.96], [346, 3.2], [358, 1.23], [368, 0]];
const jul12_spikes = [[337, 0, 7.49], [349, 0, 7.49], [331, 0, 0.9], [282, 0, 1.2]];

const panels = [
  { levels: [sep89_001, sep89_01, sep89_1, sep89_10, sep89_100, sep89_1000], noise: sep89_noise, patches: [], spikes: sep89_spikes, box: { left: 125.7, right: 445, top: 62, bottom: 380 }, dashes: [[5.32, 16, 1200], [3.09, 26, 1208]], labelled: false, showRungs: true },
  { levels: [oct89_001, oct89_01, oct89_1, oct89_10, oct89_100, oct89_1000], noise: oct89_noise, patches: oct89_patches, spikes: oct89_spikes, box: { left: 500, right: 820, top: 62, bottom: 381 }, dashes: [[5.37, 8, 1189], [3.16, 19, 1200]], labelled: false, showRungs: false },
  { levels: [jul00_001, jul00_01, jul00_1, jul00_10, jul00_100, jul00_1000], noise: jul00_noise, patches: [], spikes: jul00_spikes, box: { left: 125, right: 443, top: 408, bottom: 726 }, dashes: [[5.26, -2, 1200], [3.04, 6, 1208]], labelled: false, showRungs: true },
  { levels: [nov00_001, nov00_01, nov00_1, nov00_10, nov00_100, nov00_1000], noise: nov00_noise, patches: [], spikes: nov00_spikes, box: { left: 500, right: 820, top: 408, bottom: 726 }, dashes: [[5.26, -9, 1185], [3.04, 4, 1200]], labelled: false, showRungs: false },
  { levels: [oct03_001, oct03_01, oct03_1, oct03_10, oct03_100, oct03_1000], noise: oct03_noise, patches: [], spikes: oct03_spikes, box: { left: 123.3, right: 443, top: 755, bottom: 1072 }, dashes: [[5.31, 23, 1200], [3.08, 32, 1210]], labelled: true, showRungs: true },
  { levels: [jan05_001, jan05_01, jan05_1, jan05_10, jan05_100, jan05_1000], noise: jan05_noise, patches: [], spikes: jan05_spikes, box: { left: 500, right: 820, top: 755, bottom: 1071 }, dashes: [[5.34, 4, 1189], [3.12, 17, 1200]], labelled: true, showRungs: false },
];

function buildRows(levels, noise, patches, xMax, yMax) {
  const byTime = new Map();
  const row = (t) => {
    if (!byTime.has(t)) byTime.set(t, { t });
    return byTime.get(t);
  };
  levels.forEach((line, i) => line.forEach(([t, v]) => { row(t)["l" + i] = v; }));
  noise.forEach((band, i) => band.forEach(([t, lo, hi]) => { row(t)["n" + i] = [lo, hi]; }));
  patches.forEach((p, i) => p.pts.forEach(([t, lo, hi]) => { row(t)["p" + i] = [lo, hi]; }));
  row(0).bg = yMax;
  row(xMax).bg = yMax;
  return [...byTime.values()].sort((a, b) => a.t - b.t);
}

const TimeTick = ({ x, y, payload, labelled, stereo }) => {
  const isMajor = payload.value % 200 === 0;
  return (
    <g>
      {!stereo && <line x1={x} x2={x} y1={y} y2={y + (isMajor ? 9 : 5)} stroke={dark} strokeWidth={2} />}
      {labelled && isMajor && (
        <text x={x} y={y + 30} textAnchor="middle" fontSize={23} fontWeight={700} fill={ink} fontFamily={fontFamily}>
          {payload.value}
        </text>
      )}
    </g>
  );
};

// dash with round ends, the library's line drops the cap
const RoundDash = (p) => (
  <line x1={p.x1} y1={p.y1} x2={p.x2} y2={p.y2} stroke={dark} strokeWidth={8} strokeDasharray="18.5 19.3" strokeLinecap="round" />
);

function ContourPanel({ levels, noise, patches, spikes, box, dashes, labelled, showRungs = true, xMax = 1200, yMax = 9, rungLabels = goesLabels, timeTicks = goesTimeTicks, stereo = false }) {
  const rows = buildRows(levels, noise, patches, xMax, yMax);
  const padLeft = 70;
  const padTop = 12;
  const padRight = 34;
  const axisHeight = 44;
  const plotW = box.right - box.left;
  const plotH = box.bottom - box.top;
  return (
    <div style={{ position: "absolute", left: box.left - padLeft, top: box.top - padTop }}>
      <AreaChart width={padLeft + plotW + padRight} height={padTop + plotH + axisHeight} data={rows} margin={{ top: padTop, right: padRight, left: 0, bottom: 0 }}>
        <XAxis
          dataKey="t"
          type="number"
          domain={[0, xMax]}
          ticks={timeTicks}
          interval={0}
          height={axisHeight}
          tickSize={0}
          tickMargin={0}
          tickLine={false}
          axisLine={false}
          tick={(p) => <TimeTick {...p} labelled={labelled} stereo={stereo} />}
        />
        <YAxis
          type="number"
          domain={[0, yMax]}
          ticks={rungLabels.map((_, i) => i)}
          interval={0}
          width={padLeft}
          tickSize={stereo ? 10 : 13}
          tickMargin={3}
          axisLine={false}
          tickLine={showRungs ? { stroke: dark, strokeWidth: 2 } : false}
          tickFormatter={(v) => rungLabels[v]}
          tick={showRungs ? { fill: ink, fontSize: stereo ? 17 : 20, fontFamily } : false}
        />
        <Area dataKey="bg" type="linear" baseValue={0} connectNulls fill={binColors[0]} fillOpacity={1} stroke="none" dot={false} activeDot={false} isAnimationActive={false} />
        {levels.map((_, i) => (
          <Area key={"l" + i} dataKey={"l" + i} type="monotoneX" baseValue={0} connectNulls fill={binColors[i + 1]} fillOpacity={1} stroke={dark} strokeWidth={1.5} dot={false} activeDot={false} isAnimationActive={false} />
        ))}
        {patches.map((p, i) => (
          <Area key={"p" + i} dataKey={"p" + i} type="linear" connectNulls fill={binColors[p.bin]} fillOpacity={1} stroke={dark} strokeWidth={1} dot={false} activeDot={false} isAnimationActive={false} />
        ))}
        {noise.map((_, i) => (
          <Area key={"n" + i} dataKey={"n" + i} type="linear" connectNulls fill={dark} fillOpacity={1} stroke={dark} strokeWidth={0.8} dot={false} activeDot={false} isAnimationActive={false} />
        ))}
        {spikes.map(([t, lo, hi], i) => (
          <ReferenceLine key={"s" + i} segment={[{ x: t, y: lo }, { x: t, y: hi }]} stroke={dark} strokeWidth={1.5} ifOverflow="visible" />
        ))}
        {!stereo && <ReferenceArea x1={0} x2={xMax} y1={0} y2={yMax} fill="none" stroke={dark} strokeWidth={2.5} ifOverflow="visible" />}
        {dashes.map(([rung, from, to], i) => (
          <ReferenceLine key={"d" + i} segment={[{ x: from, y: rung }, { x: to, y: rung }]} ifOverflow="visible" shape={RoundDash} />
        ))}
      </AreaChart>
    </div>
  );
}

const legendRow = [{ name: "flux", b0: 1, b1: 1, b2: 1, b3: 1, b4: 1, b5: 1, b6: 1 }];

function FluxLegend() {
  return (
    <div style={{ position: "absolute", left: 118, top: 1233 }}>
      <BarChart width={406} height={80} data={legendRow} layout="vertical" margin={{ top: 0, right: 0, left: 0, bottom: 0 }} barCategoryGap={0}>
        <XAxis
          type="number"
          domain={[0, 7]}
          ticks={fluxLabels.map((_, i) => i + 1)}
          interval={0}
          height={38}
          axisLine={false}
          tickLine={false}
          tickMargin={6}
          tickFormatter={(v) => fluxLabels[v - 1]}
          tick={{ fill: "#444", fontSize: 21.5, fontFamily }}
        />
        <YAxis type="category" dataKey="name" hide />
        {binColors.map((c, i) => (
          <Bar key={c} dataKey={"b" + i} stackId="bins" fill={c} stroke="#333" strokeWidth={1.5} isAnimationActive={false} />
        ))}
      </BarChart>
    </div>
  );
}

const Note = ({ x, y, size, color = "#fff", bold = true, children }) => (
  <div style={{ position: "absolute", left: x, top: y, transform: "translateY(-50%)", fontSize: size, fontWeight: bold ? 700 : 400, color, lineHeight: 1, whiteSpace: "nowrap" }}>
    {children}
  </div>
);

const Rotated = ({ x, y, size, children }) => (
  <div style={{ position: "absolute", left: x, top: y, transform: "translate(-50%,-50%) rotate(-90deg)", fontSize: size, fontWeight: 700, color: ink, lineHeight: 1, whiteSpace: "nowrap" }}>
    {children}
  </div>
);

export default function App() {
  const sup = { fontSize: 19 };
  return (
    <div style={{ position: "absolute", left: 0, top: 0, width: 853, height: 1556, background: "#fff", fontFamily, overflow: "hidden" }}>
      {panels.map((p, i) => (
        <ContourPanel key={i} {...p} />
      ))}
      <ContourPanel
        levels={[jul12_001, jul12_01, jul12_1, jul12_10]}
        noise={[]}
        patches={[]}
        spikes={jul12_spikes}
        box={{ left: 673, right: 807, top: 1167, bottom: 1488 }}
        dashes={[[6, 6, 504], [2.88, 2, 503]]}
        labelled
        xMax={500}
        yMax={7.5}
        rungLabels={stereoLabels}
        timeTicks={stereoTimeTicks}
        stereo
      />
      <FluxLegend />

      <Note x={241} y={22} size={35.4} color={ink}>Differential Energy Spectra</Note>

      <Note x={267} y={91} size={29}>29 Sep 1989</Note>
      <Note x={607} y={84} size={24.8}>19-27 Oct 1989</Note>
      <Note x={266} y={431} size={24.8}>14 Jul 2000</Note>
      <Note x={533} y={430} size={24.8}>9 Nov 2000</Note>
      <Note x={202} y={788} size={25}>26-31 Oct 2003</Note>
      <Note x={508} y={787} size={25}>15-23 Jan 2005</Note>

      <Note x={132} y={176} size={21} color={ink} bold={false}>200 MeV</Note>
      <Note x={134} y={255} size={21} color={ink} bold={false}>30 MeV</Note>
      <Note x={127} y={523} size={21} color={ink} bold={false}>200 MeV</Note>
      <Note x={128} y={602} size={21} color={ink} bold={false}>30 MeV</Note>
      <Note x={129} y={869} size={21} color={ink} bold={false}>200 MeV</Note>
      <Note x={131} y={948} size={21} color={ink} bold={false}>30 MeV</Note>

      <Note x={687} y={1194} size={20}>23 Jul</Note>
      <Note x={696} y={1218} size={20}>2012</Note>
      <Note x={676} y={1242} size={20.5}>STEREO</Note>

      <Rotated x={25} y={583} size={29}>GOES P1-P6,P8-P11 (MeV)</Rotated>
      <Rotated x={25} y={883} size={29}>Median Energy</Rotated>
      <Rotated x={591} y={1313} size={23.5}>Energy (MeV)</Rotated>

      <Note x={204} y={1127} size={23.5} color={ink}>Timesteps (30 min)</Note>
      <Note x={554} y={1124} size={23.5} color={ink}>Timesteps (30 min)</Note>
      <Note x={623} y={1541} size={23.5} color={ink}>Timesteps (30 min)</Note>

      <Note x={131} y={1338} size={29.4} color={ink}>
        particles MeV<sup style={sup}>-1</sup> sr<sup style={sup}>-1</sup> cm<sup style={sup}>-2</sup> s<sup style={sup}>-1</sup>
      </Note>
    </div>
  );
}
